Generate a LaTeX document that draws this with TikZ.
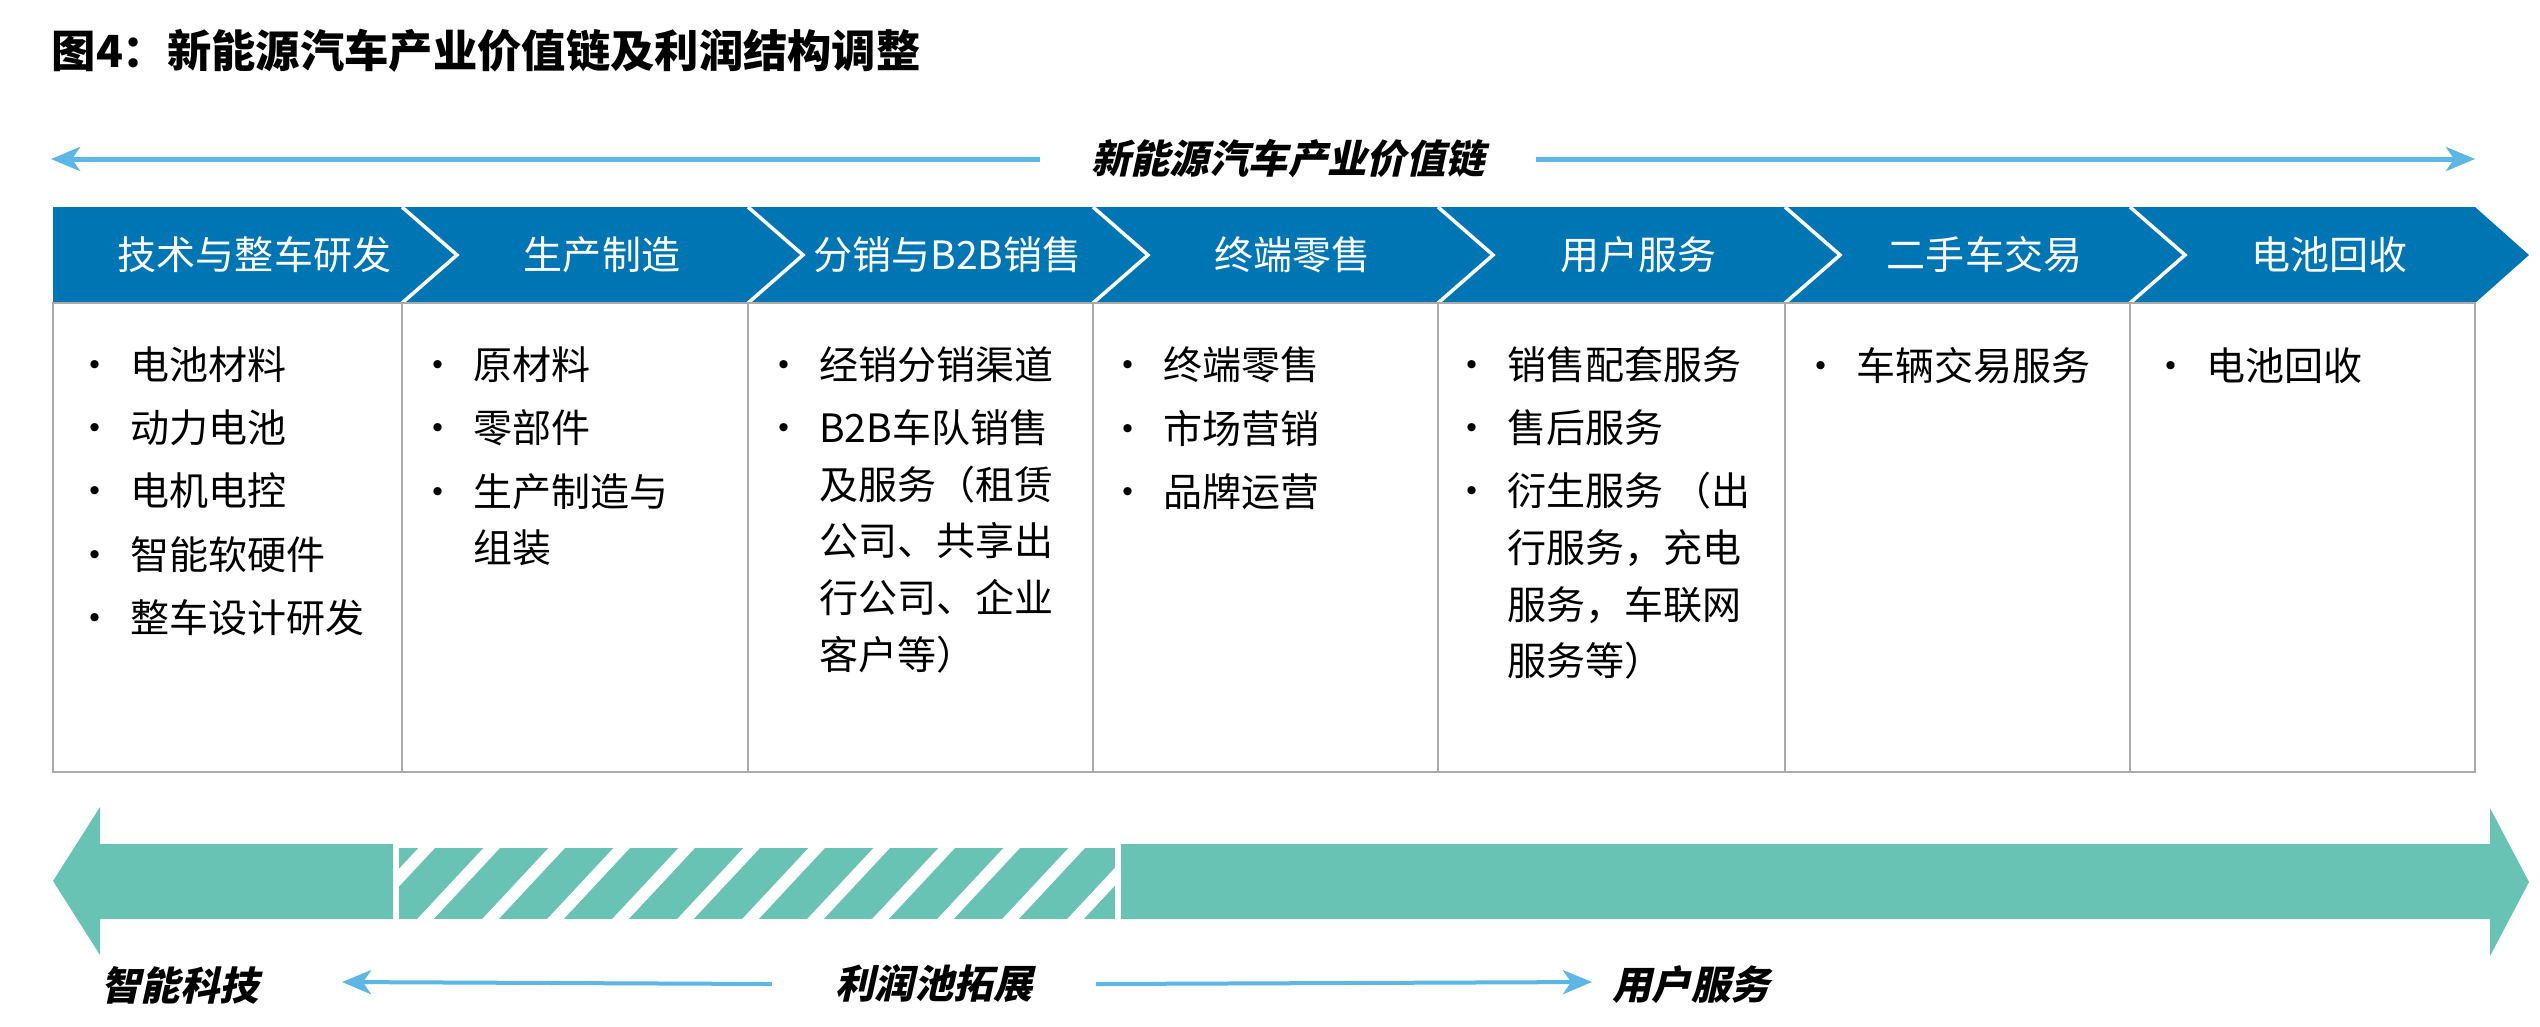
\documentclass[tikz,border=0pt]{standalone}
\usepackage{fontspec}
\setmainfont{Noto Sans CJK SC}
\newfontfamily\slantfont{Noto Sans CJK SC}[FakeSlant=0.22]
\usepackage{tikz}
\usetikzlibrary{positioning}
\usetikzlibrary{arrows.meta}

\definecolor{chainblue}{RGB}{0,117,180}
\definecolor{poolgreen}{RGB}{104,195,180}
\definecolor{linkblue}{RGB}{92,182,230}
\definecolor{boxgray}{RGB}{170,170,170}

\newcommand{\bul}{\makebox[0pt]{\textbullet}\hspace*{0.355cm}}
\newcommand{\ind}{\hspace*{0.355cm}}

\begin{document}
\begin{tikzpicture}[x=0.01cm, y=-0.01cm,
	>={Stealth[length=0.29cm,width=0.24cm,inset=0.08cm]},
	head/.style={text=white, inner sep=0pt, font=\fontsize{11.1}{13}\selectfont},
	items/.style={anchor=base west, align=left, inner sep=0pt, font=\fontsize{11.1}{16.07}\selectfont},
	tag/.style={inner ysep=0pt, inner xsep=0.5cm, font=\slantfont\bfseries\fontsize{11.2}{13}\selectfont},
	guide/.style={draw=linkblue, line width=0.05cm, ->},
	sep/.style={draw=boxgray, line width=0.025cm}]
		\useasboundingbox (0,0) rectangle (2540,1026);

		% Title
		\node[anchor=west, inner sep=0pt, font=\bfseries\fontsize{12.6}{15}\selectfont] (title) at (51,51) {图4：新能源汽车产业价值链及利润结构调整};

		% Value chain arrow
		\coordinate (chainL) at (51,159);
		\coordinate (chainR) at (2475,159);
		\node[tag] (chain) at (1288,159) {新能源汽车产业价值链};
		\draw[guide] (chain.west) -- (chainL);
		\draw[guide] (chain.east) -- (chainR);

		% Chevron band
		\fill[chainblue] (53,207) -- (2475,207) -- (2529,255) -- (2475,303) -- (53,303) -- cycle;
		\foreach \xb in {402,748,1093,1438,1785,2130}
			\draw[white, line width=0.035cm] (\xb,207) -- ++(55,48) -- ++(-55,48);
		\foreach \xl/\xr/\txt [count=\i] in {53/402/技术与整车研发, 402/748/生产制造, 748/1093/分销与B2B销售, 1093/1438/终端零售, 1438/1785/用户服务, 1785/2130/二手车交易, 2130/2475/电池回收}
			\node[head] (h\i) at ({(\xl+\xr)/2+27},255) {\txt};

		% Boxes
		\draw[sep] (53,303) rectangle (2475,772);
		\foreach \xb in {402,748,1093,1438,1785,2130}
			\draw[sep] (\xb,303) -- (\xb,772);

		% Items (base = baseline of the last line)
		\node[items] (c1) at (94,632) {\bul 电池材料\\[1.85pt]\bul 动力电池\\[1.85pt]\bul 电机电控\\[1.85pt]\bul 智能软硬件\\[1.85pt]\bul 整车设计研发};
		\node[items] (c2) at (437,562.5) {\bul 原材料\\[1.85pt]\bul 零部件\\[1.85pt]\bul 生产制造与\\\ind 组装};
		\node[items] (c3) at (783,669) {\bul 经销分销渠道\\[1.85pt]\bul B2B车队销售\\\ind 及服务（租赁\\\ind 公司、共享出\\\ind 行公司、企业\\\ind 客户等）};
		\node[items] (c4) at (1127,506) {\bul 终端零售\\[1.85pt]\bul 市场营销\\[1.85pt]\bul 品牌运营};
		\node[items] (c5) at (1471,675.5) {\bul 销售配套服务\\[1.85pt]\bul 售后服务\\[1.85pt]\bul 衍生服务 （出\\\ind 行服务，充电\\\ind 服务，车联网\\\ind 服务等）};
		\node[items] (c6) at (1820,380) {\bul 车辆交易服务};
		\node[items] (c7) at (2170,380) {\bul 电池回收};

		% Profit pool bar
		\fill[poolgreen] (53,881) -- (100,807) -- (100,844) -- (393,844) -- (393,919) -- (100,919) -- (100,955) -- cycle;
		\fill[poolgreen] (1121,844) -- (2490,844) -- (2490,808) -- (2529,882) -- (2490,956) -- (2490,919) -- (1121,919) -- cycle;
		\begin{scope}
			\clip (399,848) rectangle (1115,919);
			\fill[poolgreen] (399,848) rectangle (1115,919);
			\foreach \k in {0,...,11}
				\draw[white, line width=0.12cm] ({436+65*\k},838) -- ++(-84,90);
		\end{scope}

		% Bottom labels
		\node[tag, inner xsep=0pt] (tech) at (180,985) {智能科技};
		\node[tag, inner xsep=0.63cm] (pool) at (934,984) {利润池拓展};
		\node[tag, inner xsep=0pt] (user) at (1691,985) {用户服务};
		\coordinate (poolL) at (342,982);
		\coordinate (poolR) at (1592,982);
		\draw[guide, line width=0.04cm] (pool.west) -- (poolL);
		\draw[guide, line width=0.04cm] (pool.east) -- (poolR);
	\end{tikzpicture}
\end{document}
